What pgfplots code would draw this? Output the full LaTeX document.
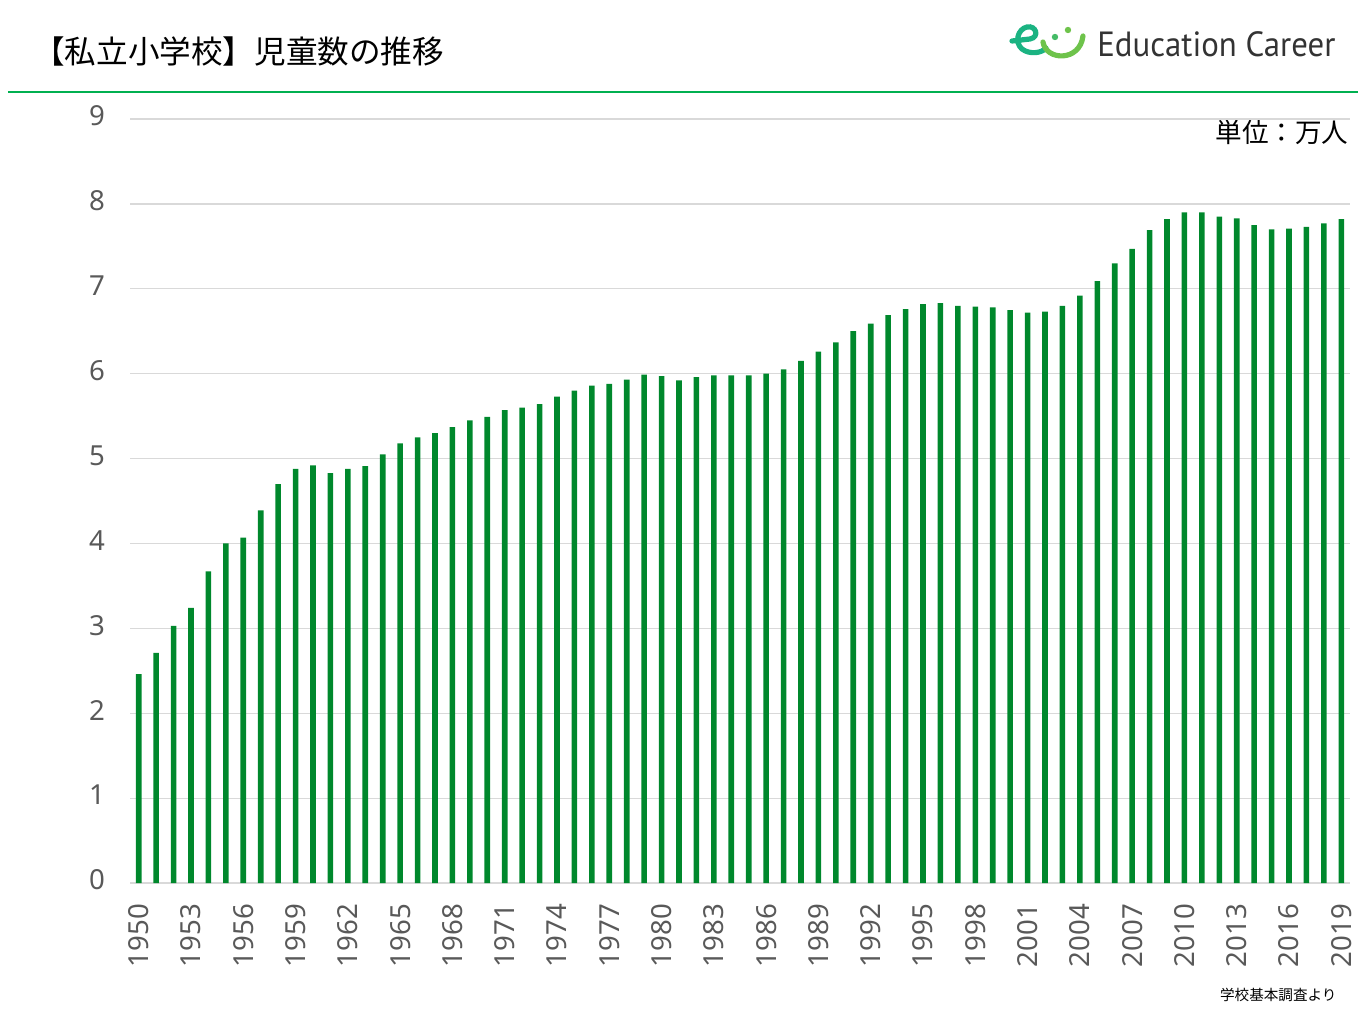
\documentclass[border=0pt]{standalone}
\usepackage{pgfplots}
\pgfplotsset{compat=1.18}
\usepackage{fontspec}
\setmainfont{Noto Sans}
\newfontfamily\jp{Noto Sans CJK JP}
\newfontfamily\logofont{PT Sans}
\definecolor{bargreen}{RGB}{0,136,44}
\definecolor{gridgray}{RGB}{217,217,217}
\definecolor{ticklab}{RGB}{89,89,89}
\definecolor{hdrline}{RGB}{0,176,80}
\definecolor{logoA}{RGB}{27,179,130}
\definecolor{logoB}{RGB}{110,195,75}
\definecolor{logotext}{RGB}{51,51,51}
\pgfplotstableread{
year val
1950 2.46
1951 2.71
1952 3.03
1953 3.24
1954 3.67
1955 4.00
1956 4.07
1957 4.39
1958 4.70
1959 4.88
1960 4.92
1961 4.83
1962 4.88
1963 4.91
1964 5.05
1965 5.18
1966 5.25
1967 5.30
1968 5.37
1969 5.45
1970 5.49
1971 5.57
1972 5.60
1973 5.64
1974 5.73
1975 5.80
1976 5.86
1977 5.88
1978 5.93
1979 5.99
1980 5.97
1981 5.92
1982 5.96
1983 5.98
1984 5.98
1985 5.98
1986 6.00
1987 6.05
1988 6.15
1989 6.26
1990 6.37
1991 6.50
1992 6.59
1993 6.69
1994 6.76
1995 6.82
1996 6.83
1997 6.80
1998 6.79
1999 6.78
2000 6.75
2001 6.72
2002 6.73
2003 6.80
2004 6.92
2005 7.09
2006 7.30
2007 7.47
2008 7.69
2009 7.82
2010 7.90
2011 7.90
2012 7.85
2013 7.83
2014 7.75
2015 7.70
2016 7.71
2017 7.73
2018 7.77
2019 7.82
}\datatable
\begin{document}
\begin{tikzpicture}
\useasboundingbox (0,0) rectangle (682.5bp,-512bp);
\begin{scope}[x=0.5bp,y=-0.5bp]
  % header
  \node[anchor=west,inner sep=0pt,font=\jp\fontsize{15.8bp}{18bp}\selectfont] at (33,51) {【私立小学校】児童数の推移};
  \draw[hdrline,line width=0.9bp] (8,92) -- (1358,92);
  % logo
  \draw[logoA,line width=2.6bp,line cap=round] (1012,41) -- (1030,39) .. controls (1040,37) and (1036,25) .. (1027,27) .. controls (1018,29) and (1014,42) .. (1022,49) .. controls (1030,55) and (1042,53) .. (1046,48);
  \draw[logoB,line width=2.6bp,line cap=round] (1043,42) .. controls (1046,61) and (1080,62) .. (1083,36);
  \fill[logoA!50!logoB] (1055,37) circle (3.2);
  \fill[logoB] (1068,30) circle (3.2);
  \node[anchor=base west,inner sep=0pt,text=logotext,font=\logofont\fontsize{17.5bp}{20bp}\selectfont] at (1097,57) {\resizebox{119bp}{\height}{Education Career}};
  % unit and source
  \node[anchor=east,inner sep=0pt,font=\jp\fontsize{13.3bp}{16bp}\selectfont] at (1349,132) {単位：万人};
  \node[anchor=east,inner sep=0pt,font=\jp\fontsize{7.3bp}{9bp}\selectfont] at (1337,995) {学校基本調査より};
\end{scope}
\begin{axis}[
  at={(65bp,-441.5bp)}, anchor=south west,
  scale only axis, width=610bp, height=382bp,
  xmin=1949.5, xmax=2019.5, ymin=0, ymax=9,
  ytick={0,1,...,9},
  xtick={1950,1953,...,2019},
  ymajorgrids, grid style={gridgray,line width=0.6bp},
  axis line style={draw=none}, tick style={draw=none},
  /pgf/number format/1000 sep={},
  /pgf/number format/assume math mode=true,
  tick label style={font=\fontsize{13.8bp}{16bp}\selectfont, text=ticklab},
  x tick label style={rotate=90, anchor=east},
  xticklabel shift=7bp,
  y tick label style={anchor=east, yshift=1.5bp},
  yticklabel shift=9bp,
  clip=false,
]
\addplot[ybar, bar width=2.8bp, fill=bargreen, draw=none] table[x=year,y=val] {\datatable};
\end{axis}
\end{tikzpicture}
\end{document}
